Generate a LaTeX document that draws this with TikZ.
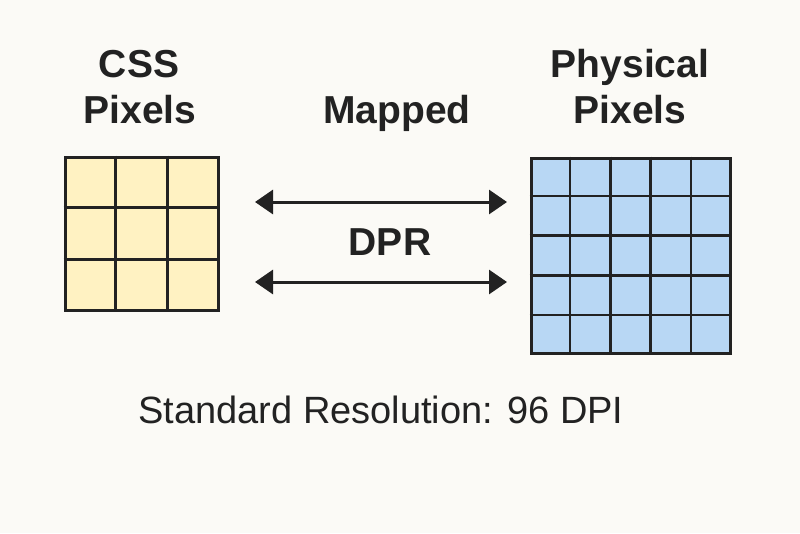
\documentclass[tikz,border=0pt]{standalone}
\usepackage{fontspec}
\setmainfont{Liberation Sans}
\usetikzlibrary{arrows.meta,calc}
\definecolor{bgpaper}{HTML}{FBFAF6}
\definecolor{cssfill}{HTML}{FFF2C2}
\definecolor{physfill}{HTML}{B8D7F4}
\definecolor{inkdark}{HTML}{222222}

\begin{document}
\begin{tikzpicture}[x=1pt,y=-1pt,>={Triangle[length=18pt,width=24pt]},
    heading/.style={anchor=base,inner sep=0pt,text=inkdark,font=\fontsize{39}{46}\selectfont\bfseries},
    caption/.style={anchor=base,inner sep=0pt,text=inkdark,font=\fontsize{38}{44}\selectfont},
    pixgrid/.style={draw=inkdark,line width=3pt,inner sep=0pt}]
  % background
  \fill[bgpaper] (0,0) rectangle (800,533);
  \useasboundingbox (0,0) rectangle (800,533);
  % headings
  \node[heading] (csstop) at (139,77) {CSS};
  \node[heading] (csslow) at (140,123) {Pixels};
  \node[heading] (phystop) at (630,77) {Physical};
  \node[heading] (physlow) at (630,123) {Pixels};
  \node[heading] (mapped) at (397,123) {Mapped};
  \node[heading] (dpr) at (390,255) {DPR};
  % css grid 3x3
  \node[pixgrid,fill=cssfill,minimum width=153pt,minimum height=153pt] (cssgrid) at (141.5,233.5) {};
  \foreach \i in {1,2}{
    \draw[inkdark,line width=2.5pt] ($(cssgrid.north west)!\i/3!(cssgrid.north east)$) -- ($(cssgrid.south west)!\i/3!(cssgrid.south east)$);
    \draw[inkdark,line width=2.5pt] ($(cssgrid.north west)!\i/3!(cssgrid.south west)$) -- ($(cssgrid.north east)!\i/3!(cssgrid.south east)$);
  }
  % physical grid 5x5
  \node[pixgrid,fill=physfill,minimum width=199pt,minimum height=195pt] (physgrid) at (630.5,255.5) {};
  \foreach \i in {1,...,4}{
    \draw[inkdark,line width=2.5pt] ($(physgrid.north west)!\i/5!(physgrid.north east)$) -- ($(physgrid.south west)!\i/5!(physgrid.south east)$);
    \draw[inkdark,line width=2.5pt] ($(physgrid.north west)!\i/5!(physgrid.south west)$) -- ($(physgrid.north east)!\i/5!(physgrid.south east)$);
  }
  % mapping arrows
  \coordinate (uparrl) at (255,202);
  \coordinate (uparrr) at (507,202);
  \coordinate (lowarrl) at (255,282);
  \coordinate (lowarrr) at (507,282);
  \draw[<->,inkdark,line width=3pt] (uparrl) -- (uparrr);
  \draw[<->,inkdark,line width=3pt] (lowarrl) -- (lowarrr);
  % resolution note
  \node[caption] (stdres) at (381,423) {Standard Resolution: 96 DPI};
\end{tikzpicture}
\end{document}
